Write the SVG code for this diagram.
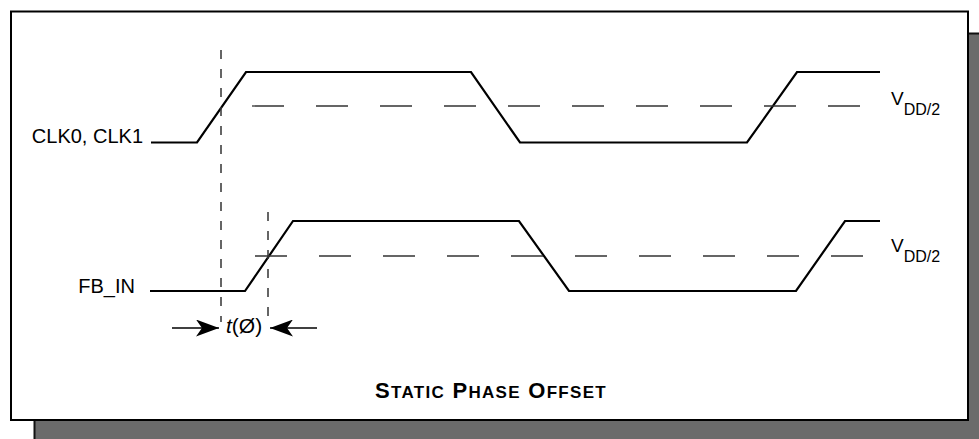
<svg xmlns="http://www.w3.org/2000/svg" width="979" height="439" viewBox="0 0 979 439">
<defs>
<style>
.txt{font-family:"Liberation Sans",Arial,sans-serif;fill:#000}
.wave{fill:none;stroke:#000;stroke-width:2.2;stroke-linejoin:miter}
.ref{fill:none;stroke:#333;stroke-width:1.3;stroke-dasharray:32 32}
.vref{fill:none;stroke:#333;stroke-width:1.5;stroke-dasharray:9 10}
.dim{fill:none;stroke:#000;stroke-width:1.5}
</style>
<marker id="arr" viewBox="0 0 23 17" refX="23" refY="8.5" markerWidth="23" markerHeight="17" markerUnits="userSpaceOnUse" orient="auto">
<path d="M0,0 L23,8.5 L0,17 L6,8.5 Z" fill="#000"/>
</marker>
</defs>
<rect id="shadow" x="34.5" y="33.5" width="960" height="420" fill="#6b6b6b" stroke="#111" stroke-width="2"/>
<rect id="frame" x="11" y="11.5" width="957" height="408.5" fill="#fff" stroke="#000" stroke-width="2"/>

<g id="clk">
<text class="txt" x="143" y="143" font-size="20" text-anchor="end">CLK0, CLK1</text>
<polyline class="wave" points="151,142.5 197,142.5 246,72 471,72 520,142.5 747,142.5 797,72 880,72"/>
<line class="ref" x1="252" y1="106" x2="862" y2="106"/>
<text class="txt" x="891" y="104.5" font-size="19">V<tspan font-size="16" dy="10">DD/2</tspan></text>
</g>

<g id="fbin">
<text class="txt" x="135" y="293" font-size="20" text-anchor="end">FB_IN</text>
<polyline class="wave" points="150,291 245,291 293,221 519,221 569,291 796,291 845,221 880,221"/>
<line class="ref" x1="255" y1="256" x2="863" y2="256"/>
<text class="txt" x="891" y="252" font-size="19">V<tspan font-size="16" dy="10">DD/2</tspan></text>
</g>

<g id="connectors">
<line class="vref" x1="221" y1="50" x2="221" y2="322"/>
<line class="vref" x1="268" y1="212" x2="268" y2="322"/>
<line class="dim" x1="172" y1="328" x2="219" y2="328" marker-end="url(#arr)"/>
<line class="dim" x1="317" y1="328" x2="270" y2="328" marker-end="url(#arr)"/>
</g>

<g id="delay-label">
<text class="txt" x="226" y="333" font-size="21"><tspan font-style="italic">t</tspan>(Ø)</text>
</g>

<g id="title">
<text class="txt" x="375" y="398" font-weight="bold" font-size="22" letter-spacing="1.3">S<tspan font-size="17">TATIC</tspan> P<tspan font-size="17">HASE</tspan> O<tspan font-size="17">FFSET</tspan></text>
</g>
</svg>
